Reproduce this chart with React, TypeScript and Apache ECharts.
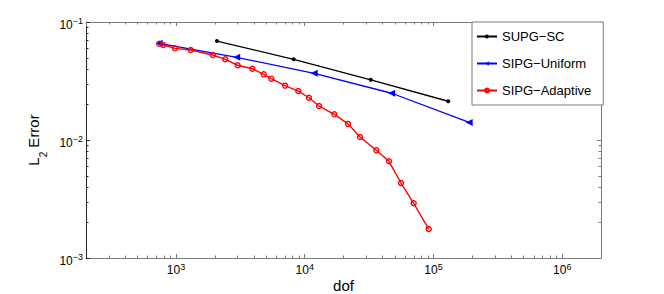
import React, { useEffect, useRef } from "react";
import * as echarts from "echarts";

const seriesNames = ["SUPG\u2212SC", "SIPG\u2212Uniform", "SIPG\u2212Adaptive"];

const dofSUPG = [2080, 8200, 32600, 130000];
const errSUPG = [0.069, 0.0483, 0.0324, 0.0213];

const dofUniform = [740, 2960, 11840, 47360, 189440];
const errUniform = [0.066, 0.0502, 0.0367, 0.0249, 0.0141];

const dofAdaptive = [741, 797, 982, 1301, 1928, 2415, 3015, 3917, 4800, 5500, 7030, 8910, 10790, 12910, 16980, 21680, 26870, 35960, 45110, 55950, 70170, 91830];
const errAdaptive = [0.0655, 0.0638, 0.0598, 0.0579, 0.0525, 0.0483, 0.043, 0.0402, 0.036, 0.0331, 0.0289, 0.026, 0.0228, 0.0194, 0.0165, 0.0137, 0.0106, 0.00818, 0.0066, 0.00432, 0.00291, 0.00176];

const xRange = [200, 2000000];
const yRange = [0.001, 0.1];

const xMinorTicks = [300, 400, 500, 600, 700, 800, 900, 2000, 3000, 4000, 5000, 6000, 7000, 8000, 9000, 20000, 30000, 40000, 50000, 60000, 70000, 80000, 90000, 200000, 300000, 400000, 500000, 600000, 700000, 800000, 900000];
const yMinorTicks = [0.002, 0.003, 0.004, 0.005, 0.006, 0.007, 0.008, 0.009, 0.02, 0.03, 0.04, 0.05, 0.06, 0.07, 0.08, 0.09];

const FONT = "'Liberation Sans', Arial, Helvetica, sans-serif";
const AXIS_DARK = "#262626";
const AXIS_GRAY = "#7a7a7a";

function powLabel(v: number): string {
  const e = Math.round(Math.log10(v));
  const p = Math.pow(10, e);
  if (Math.abs(v - p) / p > 1e-6) return "";
  const s = e < 0 ? "\u2212" + String(-e) : String(e);
  return "{b|10}{s|" + s + "}";
}

const labelRich = {
  b: { fontSize: 12, lineHeight: 14, verticalAlign: "bottom", fontFamily: FONT, color: "#000" },
  s: { fontSize: 9, lineHeight: 9, verticalAlign: "top", padding: [0, 0, 8, 0], fontFamily: FONT, color: "#000" },
};

export default function App() {
  const ref = useRef<HTMLDivElement>(null);
  useEffect(() => {
    document.body.style.margin = "0";
    if (!ref.current) return;
    const chart = echarts.init(ref.current, undefined, { renderer: "svg" });

    const minorData: number[][] = [];
    xMinorTicks.forEach((v) => minorData.push([v, 0.01, 0]));
    yMinorTicks.forEach((v) => minorData.push([1000, v, 1]));

    const option: any = {
      animation: false,
      backgroundColor: "#fff",
      textStyle: { fontFamily: FONT },
      grid: { left: 86, right: 63, top: 22, bottom: 36, containLabel: false, outerBoundsMode: "none" },
      legend: {
        data: seriesNames,
        orient: "vertical",
        left: 472,
        top: 22,
        itemWidth: 20,
        itemHeight: 5,
        itemGap: 14,
        padding: [8, 12, 8, 4],
        backgroundColor: "#fff",
        borderColor: AXIS_GRAY,
        borderWidth: 1,
        borderRadius: 0,
        symbolRotate: "inherit",
        textStyle: { fontSize: 13, fontFamily: FONT, color: "#000" },
      },
      xAxis: [
        {
          type: "log",
          logBase: 10,
          min: xRange[0],
          max: xRange[1],
          name: "dof",
          nameLocation: "middle",
          nameGap: 20,
          nameMoveOverlap: false,
          nameTextStyle: { fontSize: 15, fontFamily: FONT, color: "#000" },
          axisLine: { show: true, lineStyle: { color: AXIS_GRAY, width: 1 } },
          axisTick: { show: true, inside: true, length: 4, lineStyle: { color: AXIS_GRAY } },
          axisLabel: { show: true, margin: 4, formatter: powLabel, rich: labelRich, showMinLabel: false, showMaxLabel: false },
          splitLine: { show: false },
          minorTick: { show: false },
        },
        {
          type: "log",
          logBase: 10,
          position: "top",
          min: xRange[0],
          max: xRange[1],
          axisLine: { show: true, lineStyle: { color: AXIS_GRAY, width: 1 } },
          axisTick: { show: true, inside: true, length: 4, lineStyle: { color: AXIS_GRAY } },
          axisLabel: { show: false },
          splitLine: { show: false },
        },
      ],
      yAxis: [
        {
          type: "log",
          logBase: 10,
          min: yRange[0],
          max: yRange[1],
          name: "{a|L}{n|2}{a| Error}",
          nameLocation: "middle",
          nameGap: 31,
          nameRotate: 90,
          nameTextStyle: {
            fontSize: 15,
            fontFamily: FONT,
            color: "#000",
            rich: {
              a: { fontSize: 15, lineHeight: 16, verticalAlign: "top", fontFamily: FONT, color: "#000" },
              n: { fontSize: 10, lineHeight: 10, verticalAlign: "top", padding: [12, 0, 0, 0], fontFamily: FONT, color: "#000" },
            },
          },
          axisLine: { show: true, lineStyle: { color: AXIS_DARK, width: 1 } },
          axisTick: { show: true, inside: true, length: 4, lineStyle: { color: AXIS_DARK } },
          axisLabel: { show: true, margin: 3, padding: [3, 0, 0, 0], formatter: powLabel, rich: labelRich },
          splitLine: { show: false },
        },
        {
          type: "log",
          logBase: 10,
          position: "right",
          min: yRange[0],
          max: yRange[1],
          axisLine: { show: true, lineStyle: { color: AXIS_GRAY, width: 1 } },
          axisTick: { show: true, inside: true, length: 4, lineStyle: { color: AXIS_GRAY } },
          axisLabel: { show: false },
          splitLine: { show: false },
        },
      ],
      series: [
        {
          name: seriesNames[0],
          type: "line",
          xAxisIndex: 0,
          yAxisIndex: 0,
          data: dofSUPG.map((d, i) => [d, errSUPG[i]]),
          symbol: "circle",
          symbolSize: 4,
          itemStyle: { color: "#000" },
          lineStyle: { color: "#000", width: 1.3 },
        },
        {
          name: seriesNames[1],
          type: "line",
          xAxisIndex: 0,
          yAxisIndex: 0,
          data: dofUniform.map((d, i) => [d, errUniform[i]]),
          symbol: "triangle",
          symbolRotate: 90,
          symbolSize: 7,
          itemStyle: { color: "#0000ff" },
          lineStyle: { color: "#0000ff", width: 1.3 },
        },
        {
          name: seriesNames[2],
          type: "line",
          xAxisIndex: 0,
          yAxisIndex: 0,
          data: dofAdaptive.map((d, i) => [d, errAdaptive[i]]),
          symbol: "circle",
          symbolSize: 5,
          itemStyle: { color: "rgba(255,0,0,0)", borderColor: "#ff0000", borderWidth: 1.4 },
          lineStyle: { color: "#ff0000", width: 1.4 },
        },
        {
          name: "minorTicks",
          type: "custom",
          xAxisIndex: 0,
          yAxisIndex: 0,
          silent: true,
          z: 1,
          data: minorData,
          renderItem: (params: any, api: any) => {
            const kind = api.value(2);
            const cs = params.coordSys;
            const st = { stroke: AXIS_GRAY, lineWidth: 1 };
            if (kind === 0) {
              const px = Math.round(api.coord([api.value(0), 0.01])[0]) + 0.5;
              const yb = cs.y + cs.height;
              return {
                type: "group",
                children: [
                  { type: "line", shape: { x1: px, y1: yb, x2: px, y2: yb - 2.5 }, style: st },
                  { type: "line", shape: { x1: px, y1: cs.y, x2: px, y2: cs.y + 2.5 }, style: st },
                ],
              };
            }
            const py = Math.round(api.coord([1000, api.value(1)])[1]) + 0.5;
            const xr = cs.x + cs.width;
            return {
              type: "group",
              children: [
                { type: "line", shape: { x1: cs.x, y1: py, x2: cs.x + 2.5, y2: py }, style: { stroke: AXIS_DARK, lineWidth: 1 } },
                { type: "line", shape: { x1: xr, y1: py, x2: xr - 2.5, y2: py }, style: st },
              ],
            };
          },
        },
      ],
    };
    chart.setOption(option);
    return () => chart.dispose();
  }, []);
  return <div ref={ref} style={{ width: 664, height: 294 }} />;
}
